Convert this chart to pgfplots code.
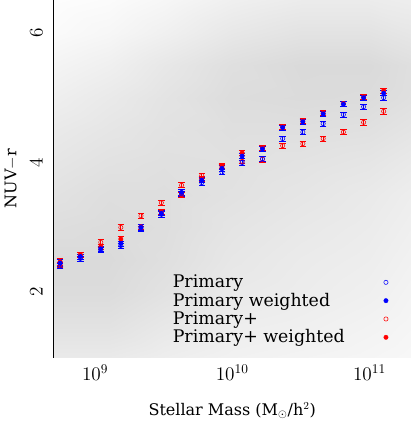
\documentclass[border=0pt]{standalone}
\usepackage{fontspec}
\setmainfont{DejaVu Serif}
\usepackage{pgfplots}
\pgfplotsset{compat=1.18}
\usepackage{pgfplotstable}

% binned medians: x  y  err
\pgfplotstableread{
x y e
5.56e8 2.40 0.04
7.81e8 2.52 0.04
1.10e9 2.65 0.04
1.54e9 2.72 0.04
2.16e9 2.98 0.04
3.04e9 3.20 0.04
4.27e9 3.52 0.04
5.99e9 3.69 0.04
8.41e9 3.85 0.04
1.18e10 4.00 0.04
1.66e10 4.06 0.04
2.33e10 4.37 0.04
3.27e10 4.47 0.04
4.60e10 4.60 0.04
6.46e10 4.74 0.04
9.07e10 4.86 0.04
1.27e11 5.00 0.04
}\primary
\pgfplotstableread{
x y e
5.56e8 2.45 0.05
7.81e8 2.55 0.04
1.10e9 2.67 0.04
1.54e9 2.75 0.04
2.16e9 3.00 0.04
3.04e9 3.22 0.04
4.27e9 3.54 0.04
5.99e9 3.73 0.04
8.41e9 3.91 0.04
1.18e10 4.10 0.04
1.66e10 4.21 0.04
2.33e10 4.54 0.04
3.27e10 4.63 0.04
4.60e10 4.75 0.04
6.46e10 4.90 0.04
9.07e10 5.00 0.04
1.27e11 5.07 0.04
}\primaryw
\pgfplotstableread{
x y e
5.56e8 2.42 0.04
7.81e8 2.55 0.04
1.10e9 2.77 0.04
1.54e9 3.00 0.04
2.16e9 3.18 0.04
3.04e9 3.38 0.04
4.27e9 3.65 0.04
5.99e9 3.80 0.04
8.41e9 3.93 0.04
1.18e10 4.02 0.04
1.66e10 4.05 0.04
2.33e10 4.26 0.04
3.27e10 4.29 0.04
4.60e10 4.37 0.04
6.46e10 4.47 0.04
9.07e10 4.62 0.04
1.27e11 4.79 0.04
}\plus
\pgfplotstableread{
x y e
5.56e8 2.47 0.05
7.81e8 2.58 0.04
1.10e9 2.70 0.04
1.54e9 2.82 0.04
2.16e9 3.01 0.04
3.04e9 3.24 0.04
4.27e9 3.50 0.04
5.99e9 3.75 0.04
8.41e9 3.95 0.04
1.18e10 4.15 0.04
1.66e10 4.23 0.04
2.33e10 4.55 0.04
3.27e10 4.64 0.04
4.60e10 4.76 0.04
6.46e10 4.91 0.04
9.07e10 5.01 0.04
1.27e11 5.11 0.04
}\plusw

% background galaxy density (0 = empty, 1 = densest), x varies fastest
\pgfplotstableread{
x y d
5.012e8 1.0 0.55
1.259e9 1.0 0.55
3.162e9 1.0 0.45
1e10 1.0 0.35
3.162e10 1.0 0.30
1e11 1.0 0.25
1.995e11 1.0 0.20
5.012e8 1.5 0.75
1.259e9 1.5 0.75
3.162e9 1.5 0.60
1e10 1.5 0.45
3.162e10 1.5 0.40
1e11 1.5 0.32
1.995e11 1.5 0.25
5.012e8 2.0 0.90
1.259e9 2.0 0.90
3.162e9 2.0 0.75
1e10 2.0 0.55
3.162e10 2.0 0.48
1e11 2.0 0.40
1.995e11 2.0 0.30
5.012e8 2.5 0.95
1.259e9 2.5 0.95
3.162e9 2.5 0.82
1e10 2.5 0.62
3.162e10 2.5 0.52
1e11 2.5 0.45
1.995e11 2.5 0.35
5.012e8 3.0 0.85
1.259e9 3.0 0.90
3.162e9 3.0 0.85
1e10 3.0 0.68
3.162e10 3.0 0.58
1e11 3.0 0.50
1.995e11 3.0 0.40
5.012e8 3.5 0.75
1.259e9 3.5 0.85
3.162e9 3.5 0.85
1e10 3.5 0.75
3.162e10 3.5 0.65
1e11 3.5 0.55
1.995e11 3.5 0.45
5.012e8 4.0 0.65
1.259e9 4.0 0.75
3.162e9 4.0 0.80
1e10 4.0 0.78
3.162e10 4.0 0.72
1e11 4.0 0.65
1.995e11 4.0 0.55
5.012e8 4.5 0.55
1.259e9 4.5 0.65
3.162e9 4.5 0.75
1e10 4.5 0.82
3.162e10 4.5 0.82
1e11 4.5 0.78
1.995e11 4.5 0.68
5.012e8 5.0 0.42
1.259e9 5.0 0.55
3.162e9 5.0 0.70
1e10 5.0 0.88
3.162e10 5.0 0.92
1e11 5.0 0.90
1.995e11 5.0 0.80
5.012e8 5.5 0.28
1.259e9 5.5 0.40
3.162e9 5.5 0.60
1e10 5.5 0.82
3.162e10 5.5 0.95
1e11 5.5 0.95
1.995e11 5.5 0.82
5.012e8 6.0 0.12
1.259e9 6.0 0.22
3.162e9 6.0 0.38
1e10 6.0 0.60
3.162e10 6.0 0.72
1e11 6.0 0.72
1.995e11 6.0 0.62
5.012e8 6.5 0.05
1.259e9 6.5 0.10
3.162e9 6.5 0.22
1e10 6.5 0.40
3.162e10 6.5 0.50
1e11 6.5 0.50
1.995e11 6.5 0.45
}\density

\begin{document}
\begin{tikzpicture}
\begin{axis}[
  width=267pt, height=267pt, scale only axis,
  xmode=log, xmin=5.012e8, xmax=1.995e11,
  ymin=1, ymax=6.5,
  xtick={1e9,1e10,1e11},
  ytick={2,4,6}, minor y tick num=3,
  tick align=inside,
  major tick length=6pt, minor tick length=3pt,
  every tick/.style={black, line width=0.5pt},
  axis line style={line width=0.7pt},
  tick label style={font=\fontsize{14}{16}\selectfont},
  xticklabel style={yshift=-2pt},
  yticklabel style={xshift=-5pt, rotate=90, anchor=south},
  label style={font=\fontsize{12}{15}\selectfont, inner sep=1.5pt},
  xlabel style={yshift=-12pt},
  ylabel style={inner sep=3.5pt, yshift=2.3pt},
  xlabel={Stellar Mass (M$_{\odot}$/h$^{2}$)},
  ylabel={NUV$-$r},
  colormap={bg}{rgb255=(255,255,255) rgb255=(216,216,216)},
  point meta min=0, point meta max=1,
  legend style={at={(rel axis cs:0.949,0.246)}, anchor=north east,
    draw=none, fill=none, font=\fontsize{13}{15}\selectfont, row sep=-1.5pt},
  legend plot pos=right,
  legend cell align=left,
  error bars/y dir=both, error bars/y explicit,
  error bars/error bar style={line width=0.6pt},
  error bars/error mark options={rotate=90, mark size=2.4pt, line width=0.6pt},
]
\addplot[surf, shader=interp, mesh/cols=7, point meta=explicit, forget plot]
  table[x=x, y=y, meta=d] {\density};

\addplot[only marks, red, mark=o, mark size=1.6pt, forget plot]
  table[x=x, y=y, y error=e] {\plus};
\addplot[only marks, red, mark=*, mark size=1.6pt, forget plot]
  table[x=x, y=y, y error=e] {\plusw};
\addplot[only marks, blue, mark=o, mark size=1.6pt, forget plot]
  table[x=x, y=y, y error=e] {\primary};
\addplot[only marks, blue, mark=*, mark size=1.6pt, forget plot]
  table[x=x, y=y, y error=e] {\primaryw};

\addlegendimage{only marks, blue, mark=o, mark size=1.6pt}
\addlegendentry{\makebox[156pt][l]{Primary}}
\addlegendimage{only marks, blue, mark=*, mark size=1.6pt}
\addlegendentry{\makebox[156pt][l]{Primary weighted}}
\addlegendimage{only marks, red, mark=o, mark size=1.6pt}
\addlegendentry{\makebox[156pt][l]{Primary+}}
\addlegendimage{only marks, red, mark=*, mark size=1.6pt}
\addlegendentry{\makebox[156pt][l]{Primary+ weighted}}
\end{axis}
\end{tikzpicture}
\end{document}
